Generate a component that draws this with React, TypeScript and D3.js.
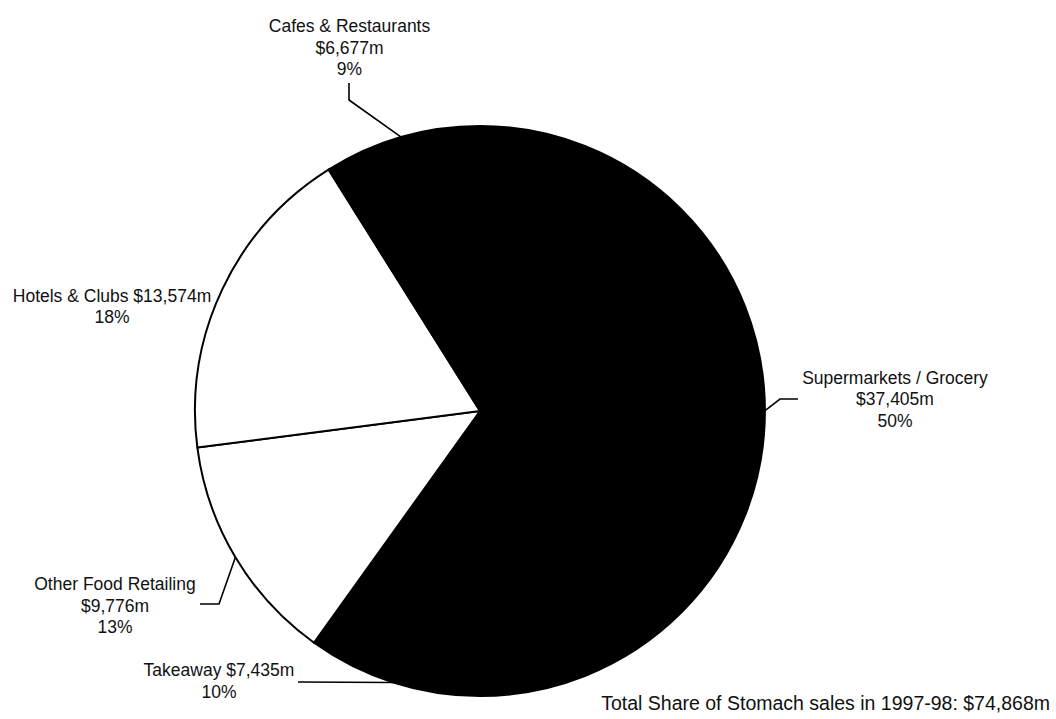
import React from "react";
import * as d3 from "d3";

// ---- data ----
const categories = [
  "Supermarkets / Grocery",
  "Takeaway",
  "Other Food Retailing",
  "Hotels & Clubs",
  "Cafes & Restaurants",
];
const values = [37405, 7435, 9776, 13574, 6677];
const sliceFills = ["#000000", "#000000", "#ffffff", "#ffffff", "#000000"];
const totalLabel = "Total Share of Stomach sales in 1997-98: $74,868m";

// ---- layout ----
const W = 1056;
const H = 719;
const CX = 480;
const CY = 411;
const R = 285;
const FONT = 17.5;
const LINE = 21.5;

// label layout: "stack" = name / value / pct ; "inline" = "name value" / pct
const labelLayout = [
  { mode: "stack", x: 895, y: 383.5, leader: [[780, 399], [798, 399]] },
  { mode: "inline", x: 219, y: 676, leader: [[298, 682]] },
  { mode: "stack", x: 115, y: 590, leader: [[219, 604], [200, 604]] },
  { mode: "inline", x: 112, y: 301.5, leader: [] },
  { mode: "stack", x: 349.5, y: 32, leader: [[349, 100], [349, 83]] },
];

const fmtVal = (v: number) => d3.format("$,")(v) + "m";

export default function App() {
  const total = d3.sum(values);
  const pie = d3
    .pie<number>()
    .sort(null)
    .startAngle(0)
    .endAngle(2 * Math.PI)
    .value((d) => d);
  const arcs = pie(values);
  const arcGen = d3.arc<d3.PieArcDatum<number>>().innerRadius(0).outerRadius(R);

  return (
    <svg
      width={W}
      height={H}
      style={{ position: "absolute", left: 0, top: 0, background: "#fff" }}
      fontFamily="'Liberation Sans', Arial, Helvetica, sans-serif"
    >
      <rect x={0} y={0} width={W} height={H} fill="#fff" />
      <g transform={`translate(${CX},${CY})`}>
        {arcs.map((a, i) => (
          <path
            key={i}
            d={arcGen(a) || ""}
            fill={sliceFills[i]}
            stroke="#000"
            strokeWidth={2}
            strokeLinejoin="round"
          />
        ))}
      </g>
      {arcs.map((a, i) => {
        const L = labelLayout[i];
        const mid = (a.startAngle + a.endAngle) / 2;
        const ex = CX + R * Math.sin(mid);
        const ey = CY - R * Math.cos(mid);
        const pts: [number, number][] = [[ex, ey], ...(L.leader as [number, number][])];
        const pct = Math.round((values[i] / total) * 100) + "%";
        const lines =
          L.mode === "stack"
            ? [categories[i], fmtVal(values[i]), pct]
            : [categories[i] + " " + fmtVal(values[i]), pct];
        return (
          <g key={"l" + i}>
            {L.leader.length > 0 && (
              <path
                d={d3.line()(pts) || ""}
                fill="none"
                stroke="#000"
                strokeWidth={1.6}
              />
            )}
            <text
              x={L.x}
              y={L.y}
              textAnchor="middle"
              fontSize={FONT}
              fill="#111"
            >
              {lines.map((t, j) => (
                <tspan key={j} x={L.x} y={L.y + j * LINE}>
                  {t}
                </tspan>
              ))}
            </text>
          </g>
        );
      })}
      <text x={1050} y={710} textAnchor="end" fontSize={19.5} fill="#111">
        {totalLabel}
      </text>
    </svg>
  );
}
